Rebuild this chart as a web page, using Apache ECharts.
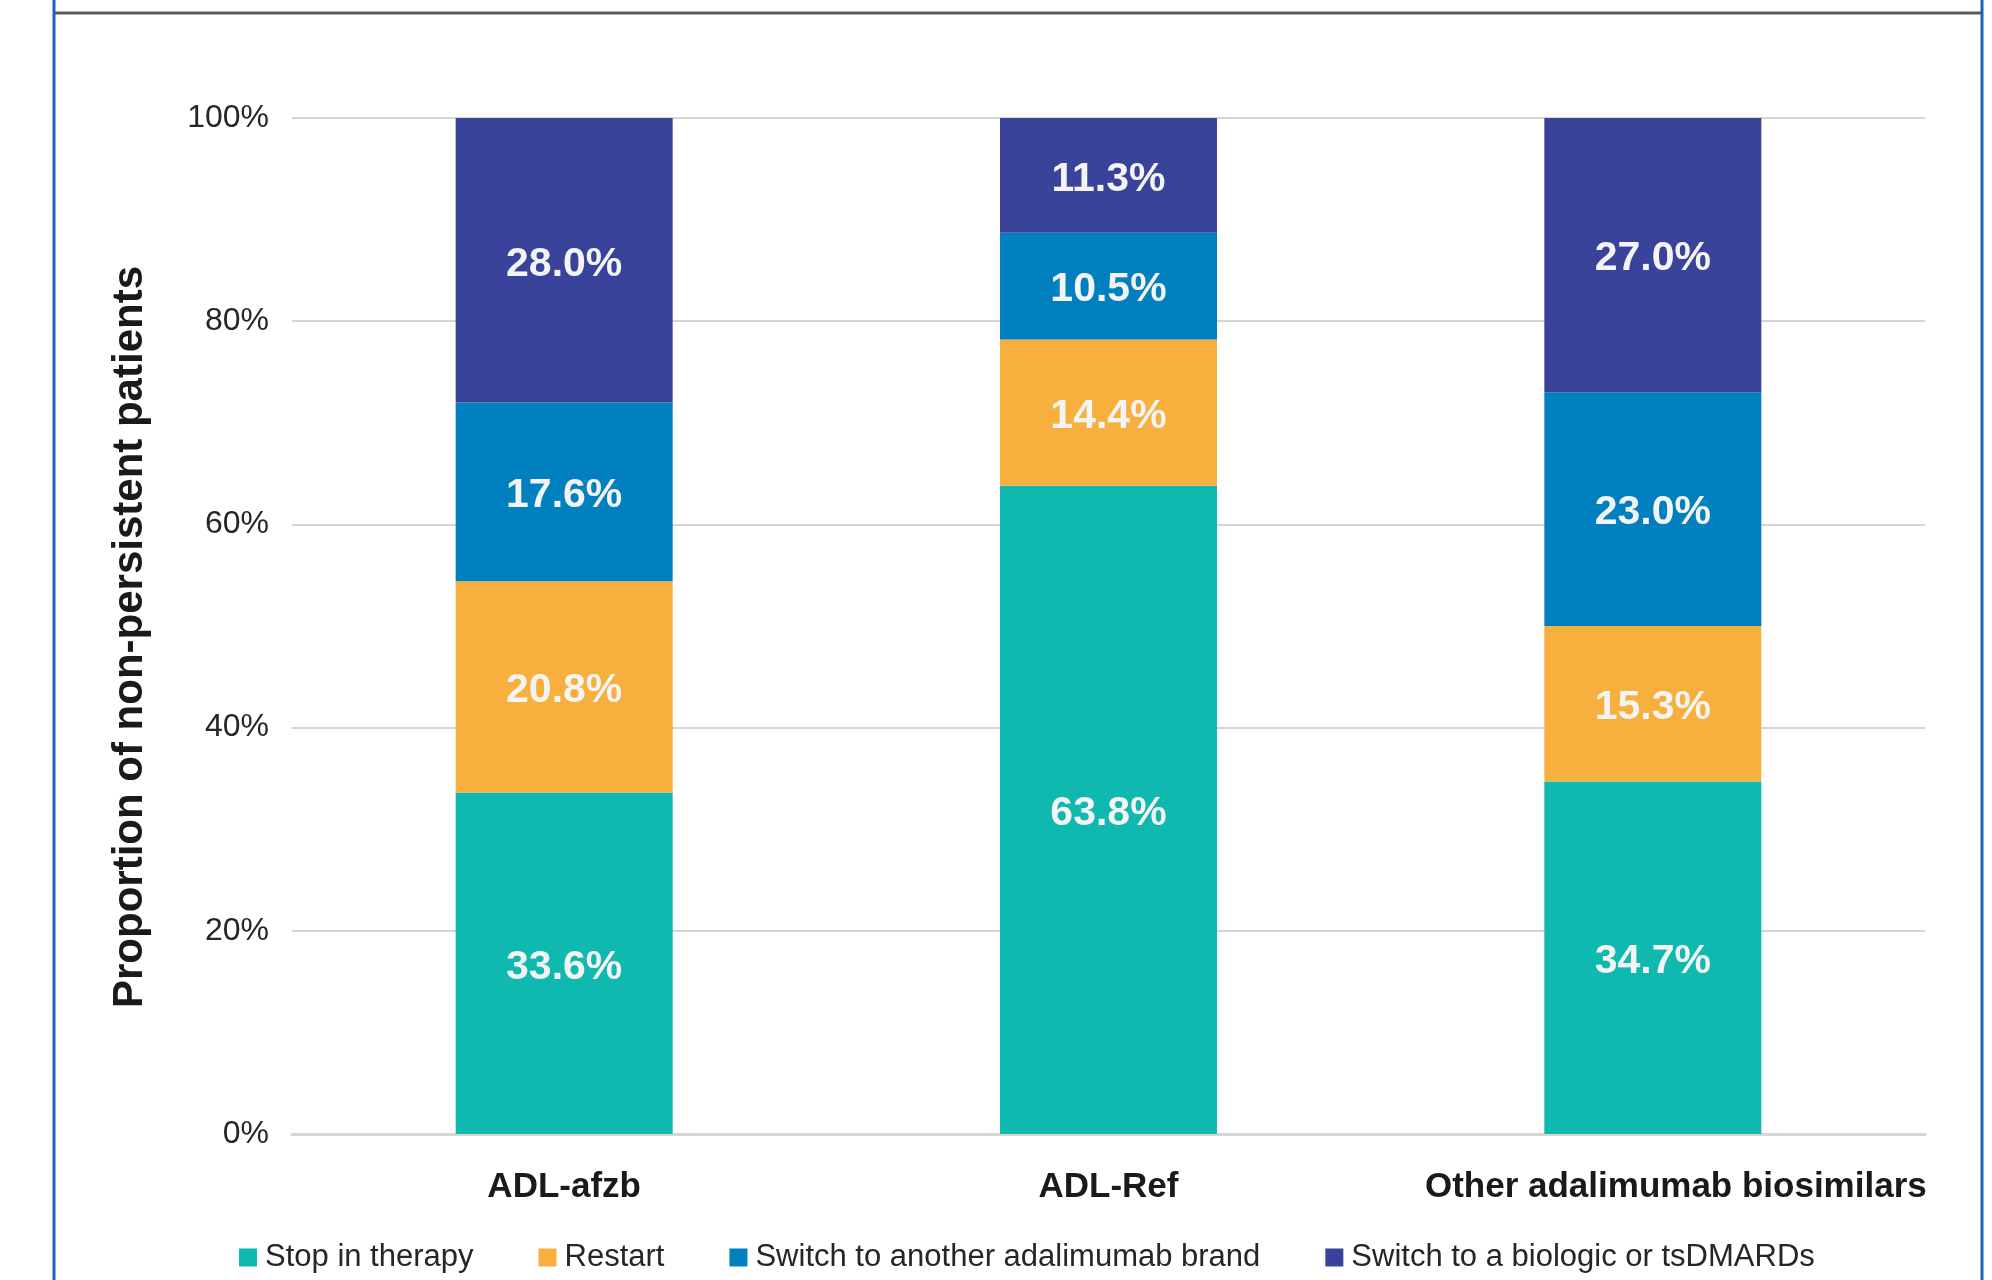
<!DOCTYPE html>
<html>
<head>
<meta charset="utf-8">
<title>Reasons for non-persistence</title>
<script src="https://cdn.jsdelivr.net/npm/echarts@6/dist/echarts.min.js"></script>
<style>
  html, body { margin: 0; padding: 0; background: #ffffff; }
  #chart { width: 1992px; height: 1280px; }
</style>
</head>
<body>
<div id="chart"></div>
<script>
// Treatment groups on the x axis
const categories = ['ADL-afzb', 'ADL-Ref', 'Other adalimumab biosimilars'];

// Share of non-persistent patients (%) per outcome, one value per group
const stopInTherapy = [33.6, 63.8, 34.7];
const restart = [20.8, 14.4, 15.3];
const switchAdalimumab = [17.6, 10.5, 23.0];
const switchBiologic = [28.0, 11.3, 27.0];

const seriesNames = [
  'Stop in therapy',
  'Restart',
  'Switch to another adalimumab brand',
  'Switch to a biologic or tsDMARDs'
];
const seriesValues = [stopInTherapy, restart, switchAdalimumab, switchBiologic];
const seriesColors = ['#10b9b0', '#f7b03e', '#0080bf', '#384399'];

const FONT = '"Liberation Sans", Arial, Helvetica, sans-serif';

const chart = echarts.init(document.getElementById('chart'), null, { renderer: 'canvas' });

const series = seriesNames.map((name, i) => ({
  name: name,
  type: 'bar',
  stack: 'total',
  barWidth: 217,
  data: seriesValues[i],
  itemStyle: { color: seriesColors[i] },
  label: {
    show: true,
    position: 'inside',
    offset: [0, 4],
    color: '#f4f4f4',
    fontFamily: FONT,
    fontWeight: 'bold',
    fontSize: 41,
    formatter: p => p.value.toFixed(1) + '%'
  },
  emphasis: { disabled: true }
}));

// the long last group name sits flush with the right end of the plot
const categoryData = categories.map((c, i) =>
  i === categories.length - 1
    ? { value: c, textStyle: { padding: [0, 0, 0, 46] } }
    : c
);

chart.setOption({
  animation: false,
  backgroundColor: '#ffffff',
  grid: { left: 292, right: 67, top: 118, bottom: 146, containLabel: false },
  legend: {
    data: seriesNames,
    left: 234,
    bottom: 2,
    itemWidth: 18,
    itemHeight: 18,
    itemGap: 65,
    icon: 'rect',
    textStyle: { fontFamily: FONT, fontSize: 31, color: '#262626', padding: [0, 0, 0, 3] }
  },
  xAxis: {
    type: 'category',
    data: categoryData,
    axisLine: { show: true, lineStyle: { color: '#d6d6d6', width: 3 } },
    axisTick: { show: false },
    axisLabel: {
      interval: 0,
      margin: 36,
      fontFamily: FONT,
      fontWeight: 'bold',
      fontSize: 35,
      color: '#1a1a1a'
    }
  },
  yAxis: {
    type: 'value',
    min: 0,
    max: 100,
    interval: 20,
    name: 'Proportion of non-persistent patients',
    nameLocation: 'middle',
    nameGap: 141,
    nameRotate: 90,
    nameTextStyle: {
      fontFamily: FONT,
      fontWeight: 'bold',
      fontSize: 42,
      color: '#1a1a1a',
      padding: [0, 22, 0, 0]
    },
    axisLine: { show: false },
    axisTick: { show: false },
    axisLabel: {
      margin: 23,
      fontFamily: FONT,
      fontSize: 32,
      color: '#262626',
      formatter: v => v + '%'
    },
    splitLine: { show: true, lineStyle: { color: '#d6d6d6', width: 2 } }
  },
  series: series,
  graphic: [
    // panel frame: grey rule across the top, blue rules down both sides
    {
      type: 'line',
      shape: { x1: 54, y1: 13, x2: 1982, y2: 13 },
      style: { stroke: '#5c5c5c', lineWidth: 3 }
    },
    {
      type: 'line',
      shape: { x1: 54, y1: 0, x2: 54, y2: 1280 },
      style: { stroke: '#1b63b3', lineWidth: 3 }
    },
    {
      type: 'line',
      shape: { x1: 1982, y1: 0, x2: 1982, y2: 1280 },
      style: { stroke: '#1b63b3', lineWidth: 3 }
    }
  ]
});
</script>
</body>
</html>
